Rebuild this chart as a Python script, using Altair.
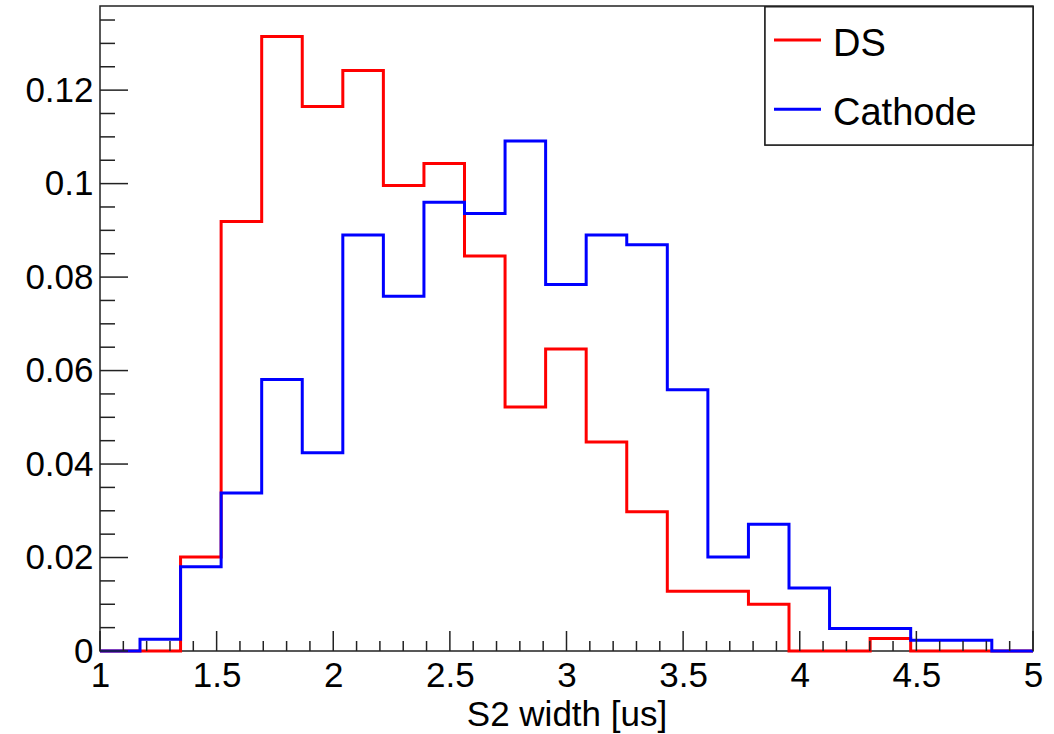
import altair as alt
import numpy as np
import pandas as pd

# ---- data ----
series_names = ["DS", "Cathode"]
series_colors = ["#ff0000", "#0000ff"]
x_min, x_max = 1.0, 5.0
y_max = 0.138
bin_lo = 1.1715
bin_width = 0.1739
ds_values = [0.0, 0.0201, 0.0919, 0.1315, 0.1165, 0.1242, 0.0996, 0.1043, 0.0845,
             0.0522, 0.0646, 0.0447, 0.0298, 0.0128, 0.0128, 0.0100, 0.0, 0.0,
             0.0027, 0.0, 0.0]
cathode_values = [0.0025, 0.0180, 0.0338, 0.0581, 0.0424, 0.0890, 0.0759, 0.0960,
                  0.0936, 0.1091, 0.0784, 0.0890, 0.0869, 0.0559, 0.0201, 0.0271,
                  0.0135, 0.0048, 0.0048, 0.0023, 0.0023]
x_major_ticks = [1.0, 1.5, 2.0, 2.5, 3.0, 3.5, 4.0, 4.5, 5.0]
y_major_ticks = [0.0, 0.02, 0.04, 0.06, 0.08, 0.10, 0.12]
x_minor_step = 0.1
y_minor_step = 0.005

FONT = "Liberation Sans"
W, H = 933, 645


def steps(values):
    xs, ys = [x_min], [0.0]
    for i, v in enumerate(values):
        xs.append(bin_lo + i * bin_width)
        ys.append(v)
    xs.append(bin_lo + len(values) * bin_width)
    ys.append(0.0)
    xs.append(x_max)
    ys.append(0.0)
    return pd.DataFrame({"x": xs, "y": ys, "i": range(len(xs))})


df_ds = steps(ds_values)
df_ca = steps(cathode_values)

x_minor = [round(v, 3) for v in np.arange(x_min, x_max + 1e-9, x_minor_step)
           if min(abs(v - m) for m in x_major_ticks) > 1e-6]
y_minor = [round(v, 4) for v in np.arange(0, y_max, y_minor_step)
           if min(abs(v - m) for m in y_major_ticks) > 1e-6]

xscale = alt.Scale(domain=[x_min, x_max], nice=False, zero=False)
yscale = alt.Scale(domain=[0, y_max], nice=False)

x_axis = alt.Axis(values=x_major_ticks, format="~g", labelFont=FONT, labelFontSize=35,
                  labelColor="black", ticks=False, domain=False, grid=False,
                  labelPadding=7, labelFlush=False, labelOverlap=False,
                  title="S2 width [us]", titleFont=FONT, titleFontSize=35,
                  titleFontWeight="normal", titleColor="black", titleY=74,
                  titleBaseline="alphabetic")
y_axis = alt.Axis(values=y_major_ticks, format=".2~f", labelFont=FONT, labelFontSize=35,
                  labelColor="black", ticks=False, domain=False, grid=False,
                  labelPadding=7, labelOverlap=False, title=None)

red = alt.Chart(df_ds).mark_line(interpolate="step-after", color=series_colors[0],
                                  strokeWidth=3).encode(
    x=alt.X("x:Q", scale=xscale, axis=x_axis),
    y=alt.Y("y:Q", scale=yscale, axis=y_axis),
    order="i:Q",
)
blue = alt.Chart(df_ca).mark_line(interpolate="step-after", color=series_colors[1],
                                  strokeWidth=3).encode(
    x=alt.X("x:Q", scale=xscale, axis=x_axis),
    y=alt.Y("y:Q", scale=yscale, axis=y_axis),
    order="i:Q",
)

tick_color = "#222222"
xt_minor = alt.Chart(pd.DataFrame({"x": x_minor})).mark_rule(
    color=tick_color, strokeWidth=1.5).encode(
    x=alt.X("x:Q", scale=xscale, axis=x_axis), y=alt.value(H), y2=alt.value(H - 10))
xt_major = alt.Chart(pd.DataFrame({"x": x_major_ticks})).mark_rule(
    color=tick_color, strokeWidth=1.5).encode(
    x=alt.X("x:Q", scale=xscale, axis=x_axis), y=alt.value(H), y2=alt.value(H - 20))
yt_minor = alt.Chart(pd.DataFrame({"y": y_minor})).mark_rule(
    color=tick_color, strokeWidth=1.5).encode(
    y=alt.Y("y:Q", scale=yscale, axis=y_axis), x=alt.value(0), x2=alt.value(15))
yt_major = alt.Chart(pd.DataFrame({"y": y_major_ticks})).mark_rule(
    color=tick_color, strokeWidth=1.5).encode(
    y=alt.Y("y:Q", scale=yscale, axis=y_axis), x=alt.value(0), x2=alt.value(28))

main = alt.layer(red, blue, xt_minor, xt_major, yt_minor, yt_major)

# ---- legend box ----
leg_df = pd.DataFrame({"series": series_names, "row": [0, 1]})
leg_y = alt.Y("row:Q", scale=alt.Scale(domain=[0, 1], range=[34, 103.3]), axis=None)
leg_color = alt.Color("series:N", scale=alt.Scale(domain=series_names, range=series_colors),
                      legend=None)
box = alt.Chart(leg_df).mark_rect(fill="white", stroke=tick_color, strokeWidth=1.5).encode(
    x=alt.value(665), x2=alt.value(W), y=alt.value(0.7), y2=alt.value(139))
leg_lines = alt.Chart(leg_df).mark_rule(strokeWidth=3).encode(
    x=alt.value(674), x2=alt.value(721), y=leg_y, color=leg_color)
leg_text = alt.Chart(leg_df).mark_text(align="left", baseline="alphabetic", dy=16,
                                       font=FONT, fontSize=38, color="black").encode(
    x=alt.value(733), y=leg_y, text="series:N")
legend = alt.layer(box, leg_lines, leg_text)

chart = alt.layer(main, legend).resolve_scale(y="independent").properties(
    width=W, height=H,
    autosize=alt.AutoSizeParams(type="none"),
    padding={"left": 100, "top": 6, "right": 21, "bottom": 83},
    background="white",
).configure_view(stroke=tick_color, strokeWidth=1.5)

chart.save("out.html", embed_options={"renderer": "svg", "actions": False})
